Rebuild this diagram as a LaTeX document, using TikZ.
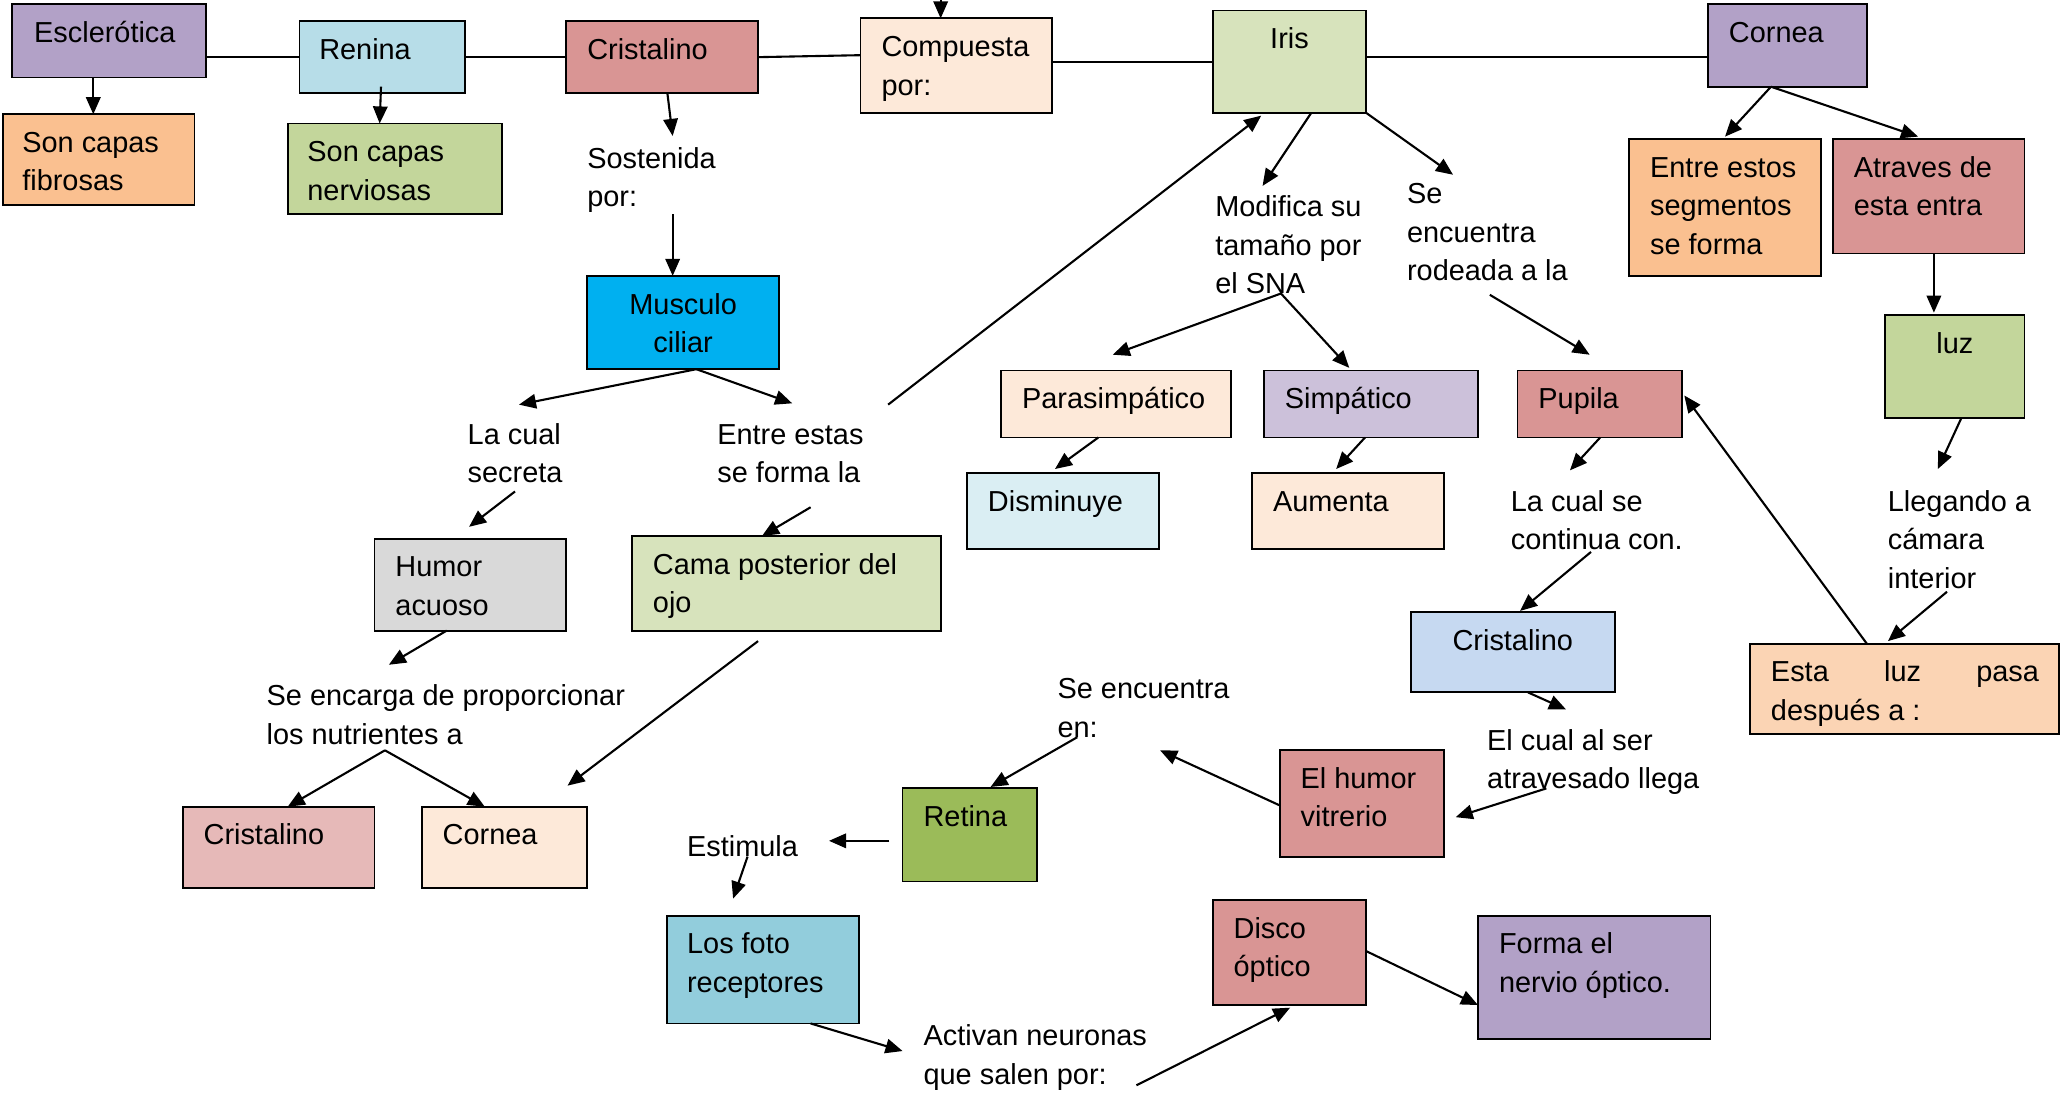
\documentclass[tikz,border=0pt]{standalone}
\usepackage{fontspec}
\setmainfont{Liberation Sans}
\usetikzlibrary{arrows.meta}
\definecolor{cPurple}{HTML}{B2A1C7}
\definecolor{cOrange}{HTML}{FAC090}
\definecolor{cLBlue}{HTML}{B7DDE8}
\definecolor{cGreen}{HTML}{C3D69B}
\definecolor{cRed}{HTML}{D99594}
\definecolor{cPeach}{HTML}{FDE9D9}
\definecolor{cLGreen}{HTML}{D7E3BC}
\definecolor{cCyan}{HTML}{00B0F0}
\definecolor{cLav}{HTML}{CCC1DA}
\definecolor{cPale}{HTML}{DAEEF3}
\definecolor{cGrey}{HTML}{D9D9D9}
\definecolor{cSky}{HTML}{C6D9F1}
\definecolor{cApricot}{HTML}{FBD4B4}
\definecolor{cOlive}{HTML}{9BBB59}
\definecolor{cPink}{HTML}{E6B9B8}
\definecolor{cTeal}{HTML}{92CDDC}
\tikzset{
  boxst/.style={draw=black, line width=1.4pt, anchor=north west, inner sep=0pt, outer sep=0pt},
  lblst/.style={anchor=north west, inner sep=0pt, outer sep=0pt},
  arr/.style={line width=1.6pt, -{Triangle[length=13pt,width=11pt]}},
  ln/.style={line width=1.6pt}
}
\newcommand\mybox[8]{\node[boxst,fill=#6] (#1) at (#2,#3) {\parbox[t][#5pt][t]{#4pt}{\vspace*{8.5pt}\raggedright#7\strut#8\strut}};}
\newcommand\mylbl[4]{\node[lblst] (#1) at (#2,{#3-20.5}) {\parbox[t]{320pt}{\raggedright\strut#4\strut}};}
\begin{document}
\begin{tikzpicture}[x=1pt,y=-1pt,font=\fontsize{22pt}{29.3pt}\selectfont]
\useasboundingbox (0,0) rectangle (1568,833);
% boxes
\mybox{esc}{9}{3}{148}{56}{cPurple}{\leftskip=17pt}{Esclerótica}
\mybox{fib}{2}{87}{146}{69}{cOrange}{\leftskip=15pt}{Son capas\\fibrosas}
\mybox{ren}{228}{16}{126}{55}{cLBlue}{\leftskip=15pt}{Renina}
\mybox{ner}{219}{94}{163}{69}{cGreen}{\leftskip=15pt}{Son capas\\nerviosas}
\mybox{cri1}{431}{16}{146}{55}{cRed}{\leftskip=16pt}{Cristalino}
\mybox{comp}{655}{14}{146}{72}{cPeach}{\leftskip=16pt}{Compuesta\\por:}
\mybox{iris}{923}{8}{117}{78}{cLGreen}{\centering}{Iris}
\mybox{cor1}{1300}{3}{121}{63}{cPurple}{\leftskip=16pt}{Cornea}
\mybox{seg}{1240}{106}{146}{104}{cOrange}{\leftskip=16pt}{Entre estos\\segmentos\\se forma}
\mybox{atr}{1395}{106}{146}{87}{cRed}{\leftskip=16pt}{Atraves de\\esta entra}
\mybox{luz}{1435}{240}{106}{78}{cGreen}{\centering}{luz}
\mybox{mus}{447}{210}{146}{71}{cCyan}{\centering}{Musculo\\ciliar}
\mybox{para}{762}{282}{175}{51}{cPeach}{\leftskip=16pt}{Parasimpático}
\mybox{simp}{962}{282}{163}{51}{cLav}{\leftskip=16pt}{Simpático}
\mybox{pup}{1155}{282}{125}{51}{cRed}{\leftskip=16pt}{Pupila}
\mybox{dism}{736}{360}{146}{58}{cPale}{\leftskip=16pt}{Disminuye}
\mybox{aum}{953}{360}{146}{58}{cPeach}{\leftskip=16pt}{Aumenta}
\mybox{hum}{285}{410}{146}{70}{cGrey}{\leftskip=16pt}{Humor\\acuoso}
\mybox{cama}{481}{408}{235}{72}{cLGreen}{\leftskip=16pt}{Cama posterior del\\ojo}
\mybox{cri2}{1074}{466}{155}{61}{cSky}{\centering}{Cristalino}
\mybox{esta}{1332}{490}{235}{69}{cApricot}{\leftskip=16pt}{\makebox[204pt][l]{Esta\hfill luz\hfill pasa}\\después a :}
\mybox{vit}{974}{571}{125}{81}{cRed}{\leftskip=16pt}{El humor\\vitrerio}
\mybox{ret}{687}{600}{102}{71}{cOlive}{\leftskip=16pt}{Retina}
\mybox{cri3}{139}{614}{146}{62}{cPink}{\leftskip=16pt}{Cristalino}
\mybox{cor2}{321}{614}{126}{62}{cPeach}{\leftskip=16pt}{Cornea}
\mybox{foto}{508}{697}{146}{82}{cTeal}{\leftskip=15pt}{Los foto\\receptores}
\mybox{disco}{923}{685}{117}{80}{cRed}{\leftskip=16pt}{Disco\\óptico}
\mybox{nerv}{1125}{697}{177}{94}{cPurple}{\leftskip=16pt}{Forma el\\nervio óptico.}
% labels
\mylbl{sost}{447}{128}{Sostenida\\por:}
\mylbl{lcs}{356}{338}{La cual\\secreta}
\mylbl{ent}{546}{338}{Entre estas\\se forma la}
\mylbl{mod}{925}{165}{Modifica su\\tamaño por\\el SNA}
\mylbl{rod}{1071}{155}{Se\\encuentra\\rodeada a la}
\mylbl{cont}{1150}{389}{La cual se\\continua con.}
\mylbl{lleg}{1437}{389}{Llegando a\\cámara\\interior}
\mylbl{enc}{203}{537}{Se encarga de proporcionar\\los nutrientes a}
\mylbl{sen}{805}{532}{Se encuentra\\en:}
\mylbl{elc}{1132}{571}{El cual al ser\\atravesado llega}
\mylbl{est}{523}{652}{Estimula}
\mylbl{act}{703}{796}{Activan neuronas\\que salen por:}
\coordinate (topin) at (716,0);
% top chain
\draw[ln] (esc.east |- ren.west) -- (ren.west);
\draw[ln] (ren.east) -- (cri1.west);
\draw[ln] (cri1.east) -- ([shift={(0,28)}]comp.north west);
\draw[ln] (comp.east |- iris.west) -- (iris.west);
\draw[ln] ([shift={(0,35.5)}]iris.north east) -- ([shift={(0,40.5)}]cor1.north west);
\draw[arr] (topin) -- (topin |- comp.north);
% arrows
\draw[arr] ([shift={(62,0)}]esc.south west) -- ([shift={(69,0)}]fib.north west);
\draw[arr] ([shift={(62,-5)}]ren.south west) -- ([shift={(70,0)}]ner.north west);
\draw[arr] ([shift={(77,0)}]cri1.south west) -- ([shift={(65,-4)}]sost.north west);
\draw[arr] ([shift={(65,-3)}]sost.south west) -- ([shift={(65,0)}]mus.north west);
\draw[arr] ([shift={(83,0)}]mus.south west) -- ([shift={(39,-9.5)}]lcs.north west);
\draw[arr] ([shift={(83,0)}]mus.south west) -- ([shift={(57,-10.5)}]ent.north west);
\draw[arr] ([shift={(36,-2)}]lcs.south west) -- ([shift={(72,-9)}]hum.north west);
\draw[arr] ([shift={(71,10)}]ent.south west) -- ([shift={(99,0)}]cama.north west);
\draw[arr] ([shift={(130,-9.5)}]ent.north west) -- ([shift={(37,2)}]iris.south west);
\draw[arr] ([shift={(55,0)}]hum.south west) -- ([shift={(93,-10.5)}]enc.north west);
\draw[arr] ([shift={(90,-4)}]enc.south west) -- ([shift={(80,0)}]cri3.north west);
\draw[arr] ([shift={(90,-4)}]enc.south west) -- ([shift={(48,0)}]cor2.north west);
\draw[arr] ([shift={(96,8)}]cama.south west) -- ([shift={(111,-16)}]cor2.north west);
\draw[arr] ([shift={(75,0)}]iris.south west) -- ([shift={(36,-3)}]mod.north west);
\draw[arr] (iris.south east) -- ([shift={(35,-1.5)}]rod.north west);
\draw[arr] ([shift={(50,-9)}]mod.south west) -- ([shift={(85,-12)}]para.north west);
\draw[arr] ([shift={(50,-9)}]mod.south west) -- ([shift={(65,-2)}]simp.north west);
\draw[arr] ([shift={(63,2)}]rod.south west) -- ([shift={(55,-12)}]pup.north west);
\draw[arr] ([shift={(74,0)}]para.south west) -- ([shift={(67,-3)}]dism.north west);
\draw[arr] ([shift={(77,0)}]simp.south west) -- ([shift={(64,-3)}]aum.north west);
\draw[arr] ([shift={(63,0)}]pup.south west) -- ([shift={(45,-10.5)}]cont.north west);
\draw[arr] ([shift={(61,-7)}]cont.south west) -- ([shift={(83,-1)}]cri2.north west);
\draw[arr] ([shift={(89,0)}]cri2.south west) -- ([shift={(60,-10.5)}]elc.north west);
\draw[arr] ([shift={(45,-9)}]elc.south west) -- ([shift={(9,51)}]vit.north east);
\draw[arr] ([shift={(0,42)}]vit.north west) -- ([shift={(78,1)}]sen.south west);
\draw[arr] ([shift={(15,-9)}]sen.south west) -- ([shift={(67,-1)}]ret.north west);
\draw[arr] ([shift={(-10,40)}]ret.north west) -- ([shift={(108,8.5)}]est.north west);
\draw[arr] ([shift={(46,20.5)}]est.north west) -- ([shift={(50,-13)}]foto.north west);
\draw[arr] ([shift={(109,0)}]foto.south west) -- ([shift={(-16,24.5)}]act.north west);
\draw[arr] ([shift={(162,-8)}]act.south west) -- ([shift={(59,2)}]disco.south west);
\draw[arr] ([shift={(0,39)}]disco.north east) -- ([shift={(0,68)}]nerv.north west);
\draw[arr] ([shift={(48,0)}]cor1.south west) -- ([shift={(73,-2)}]seg.north west);
\draw[arr] ([shift={(48,0)}]cor1.south west) -- ([shift={(65,-2)}]atr.north west);
\draw[arr] ([shift={(77,0)}]atr.south west) -- ([shift={(37,-2)}]luz.north west);
\draw[arr] ([shift={(58,0)}]luz.south west) -- ([shift={(38,-11.5)}]lleg.north west);
\draw[arr] ([shift={(45,-6)}]lleg.south west) -- ([shift={(105,-2)}]esta.north west);
\draw[arr] ([shift={(89,0)}]esta.north west) -- ([shift={(2,19)}]pup.north east);
\end{tikzpicture}
\end{document}
